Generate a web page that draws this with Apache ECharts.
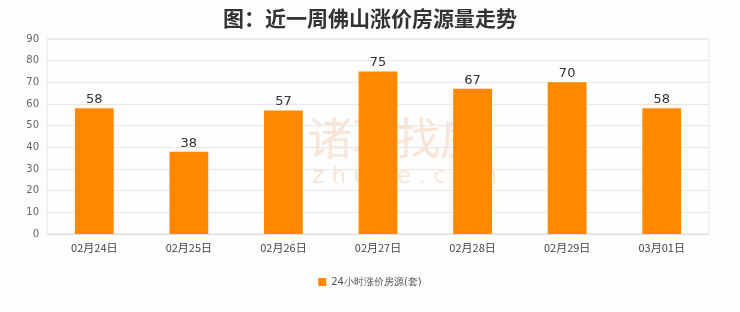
<!DOCTYPE html>
<html><head><meta charset="utf-8">
<script src="https://cdn.jsdelivr.net/npm/echarts@6/dist/echarts.min.js"></script>
<style>html,body{margin:0;padding:0;background:#fff}#c{width:740px;height:312px}</style>
</head><body><div id="c"></div>
<script>
const categories = ['02月24日','02月25日','02月26日','02月27日','02月28日','02月29日','03月01日'];
const values = [58, 38, 57, 75, 67, 70, 58];
const seriesName = '24小时涨价房源(套)';
const titleText = '图：近一周佛山涨价房源量走势';

const chart = echarts.init(document.getElementById('c'));
chart.setOption({
  backgroundColor: '#fdfdfd',
  animation: false,
  title: { text: titleText, left: 'center', top: 3,
    textStyle: { fontSize: 21, fontWeight: 'bold', color: '#333', fontFamily: 'Noto Sans CJK SC' } },
  graphic: [
    { type: 'text', left: 308, top: 116, silent: true,
      style: { text: '诸葛找房', fontSize: 44, fill: 'rgba(240,160,100,0.25)', fontFamily: 'Noto Sans CJK SC', letterSpacing: 6 } },
    { type: 'text', left: 312, top: 166, silent: true,
      style: { text: 'z h u g e . c o m', fontSize: 23, fill: 'rgba(240,160,100,0.25)', fontFamily: 'DejaVu Sans' } }
  ],
  legend: { bottom: 20, left: 'center', itemWidth: 8, itemHeight: 8, icon: 'rect',
    textStyle: { fontSize: 10, color: '#555', fontFamily: 'DejaVu Sans' }, data: [seriesName] },
  grid: { left: 47, right: 31, top: 39, bottom: 78, show: true, borderColor: '#e6e6e6', borderWidth: 1 },
  xAxis: { type: 'category', data: categories,
    axisLine: { lineStyle: { color: '#ddd' } }, axisTick: { show: false },
    axisLabel: { fontSize: 11, color: '#444', margin: 8, fontFamily: 'Noto Sans CJK SC' } },
  yAxis: { type: 'value', min: 0, max: 90, interval: 10,
    axisLine: { show: false }, axisTick: { show: false },
    splitLine: { lineStyle: { color: '#e8e8e8' } },
    axisLabel: { fontSize: 10, color: '#666', margin: 8, fontFamily: 'DejaVu Sans' } },
  series: [{ name: seriesName, type: 'bar', data: values, barWidth: '41%',
    itemStyle: { color: '#ff8800' },
    label: { show: true, position: 'top', fontSize: 13, color: '#333', distance: 2, fontFamily: 'DejaVu Sans' } }]
});
</script></body></html>
